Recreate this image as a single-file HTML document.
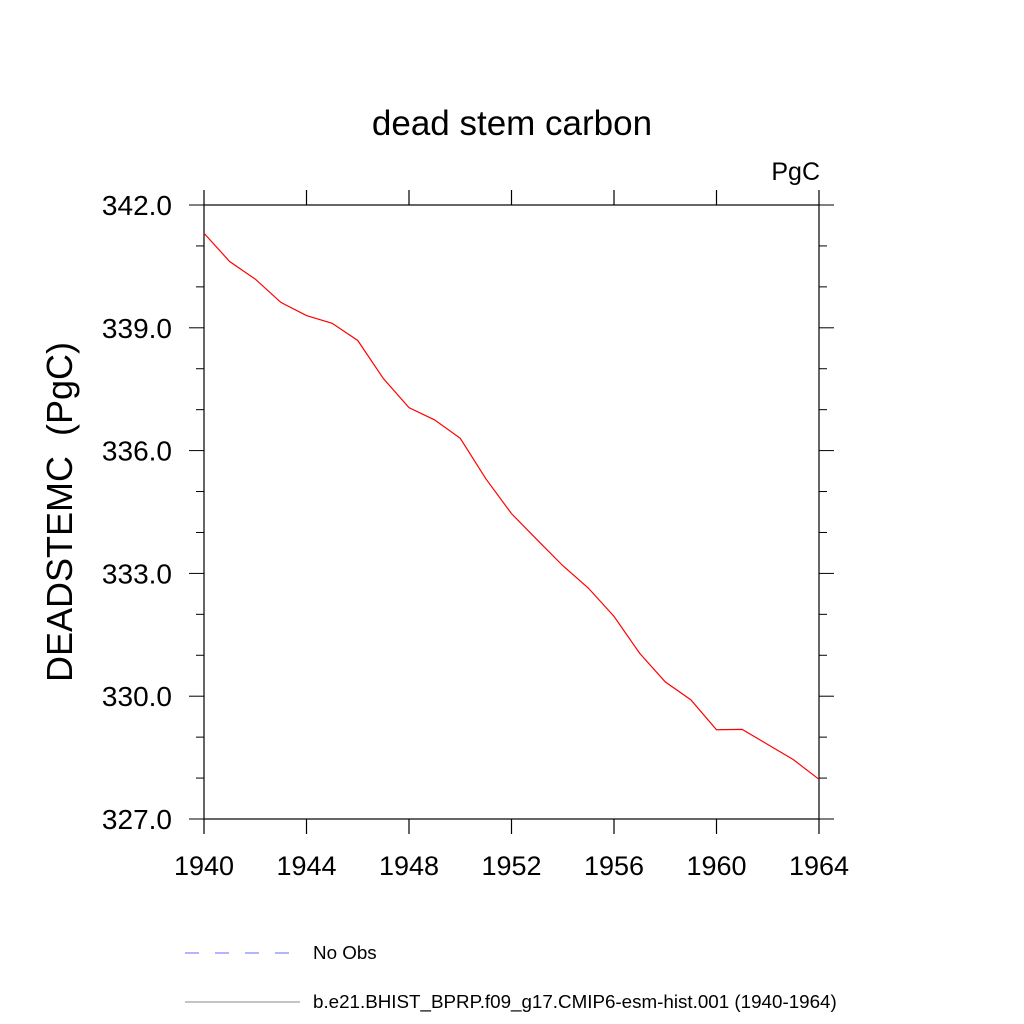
<!DOCTYPE html>
<html><head><meta charset="utf-8"><style>
body{margin:0;background:#fff}
svg{display:block;font-family:"Liberation Sans",sans-serif}
</style></head><body>
<svg id="chart" width="1024" height="1024" viewBox="0 0 1024 1024">
<text x="512" y="135" font-size="35" text-anchor="middle">dead stem carbon</text>
<text x="820" y="180" font-size="25" text-anchor="end">PgC</text>
<text transform="translate(72,512) rotate(-90)" font-size="36" text-anchor="middle" xml:space="preserve" style="white-space:pre">DEADSTEMC  (PgC)</text>
<g id="axes"></g>
<polyline id="series" fill="none" stroke="#ff0000" stroke-width="1.2"/>
<line x1="185" y1="953" x2="292" y2="953" stroke="#6a6aff" stroke-width="1" stroke-dasharray="14,16"/>
<text x="313" y="959" font-size="18.8">No Obs</text>
<line x1="185" y1="1002" x2="300" y2="1002" stroke="#888" stroke-width="1"/>
<text x="313" y="1008" font-size="18.8">b.e21.BHIST_BPRP.f09_g17.CMIP6-esm-hist.001 (1940-1964)</text>
</svg>
<script>
const years=[1940,1941,1942,1943,1944,1945,1946,1947,1948,1949,1950,1951,1952,1953,1954,1955,1956,1957,1958,1959,1960,1961,1962,1963,1964];
const values=[341.31,340.62,340.19,339.62,339.30,339.11,338.69,337.76,337.05,336.75,336.30,335.31,334.46,333.82,333.19,332.64,331.95,331.05,330.35,329.91,329.18,329.19,328.82,328.45,327.97];
const xTicks=[1940,1944,1948,1952,1956,1960,1964];
const yTicks=[327,330,333,336,339,342];
const yTickLabels=["327.0","330.0","333.0","336.0","339.0","342.0"];
const L=204,R=819,T=205,B=819,X0=1940,X1=1964,Y0=327,Y1=342;
const sx=v=>L+(v-X0)/(X1-X0)*(R-L);
const sy=v=>B-(v-Y0)/(Y1-Y0)*(B-T);
const NS="http://www.w3.org/2000/svg";
const g=document.getElementById('axes');
function mk(tag,attrs){const e=document.createElementNS(NS,tag);for(const k in attrs)e.setAttribute(k,attrs[k]);g.appendChild(e);return e;}
const fr=mk('rect',{x:L,y:T,width:R-L,height:B-T,fill:'none',stroke:'#000','stroke-width':1.2});


for(let y=X0;y<=X1;y++){
  if(!xTicks.includes(y))continue;
  const x=sx(y);
  const t1=mk('line',{x1:x,y1:B,x2:x,y2:B+15,stroke:'#000','stroke-width':1.2});
  
  
  const t2=mk('line',{x1:x,y1:T,x2:x,y2:T-15,stroke:'#000','stroke-width':1.2});
  
  
  const lb=mk('text',{x:x,y:875,'font-size':27,'text-anchor':'middle'});
  lb.textContent=y;
  
  
}
for(let v=Y0;v<=Y1+0.001;v+=1){
  const major=yTicks.includes(Math.round(v));
  const y=sy(v),len=major?15:8;
  const a=mk('line',{x1:L,y1:y,x2:L-len,y2:y,stroke:'#000','stroke-width':1});
  
  
  const b=mk('line',{x1:R,y1:y,x2:R+len,y2:y,stroke:'#000','stroke-width':1});
  
  
}
yTicks.forEach((v,i)=>{
  const lb=mk('text',{x:172,y:sy(v)+10,'font-size':28,'text-anchor':'end'});
  lb.textContent=yTickLabels[i];
  
  
});
document.getElementById('series').setAttribute('points',years.map((yr,i)=>sx(yr)+','+sy(values[i])).join(' '));
</script>
</body></html>
